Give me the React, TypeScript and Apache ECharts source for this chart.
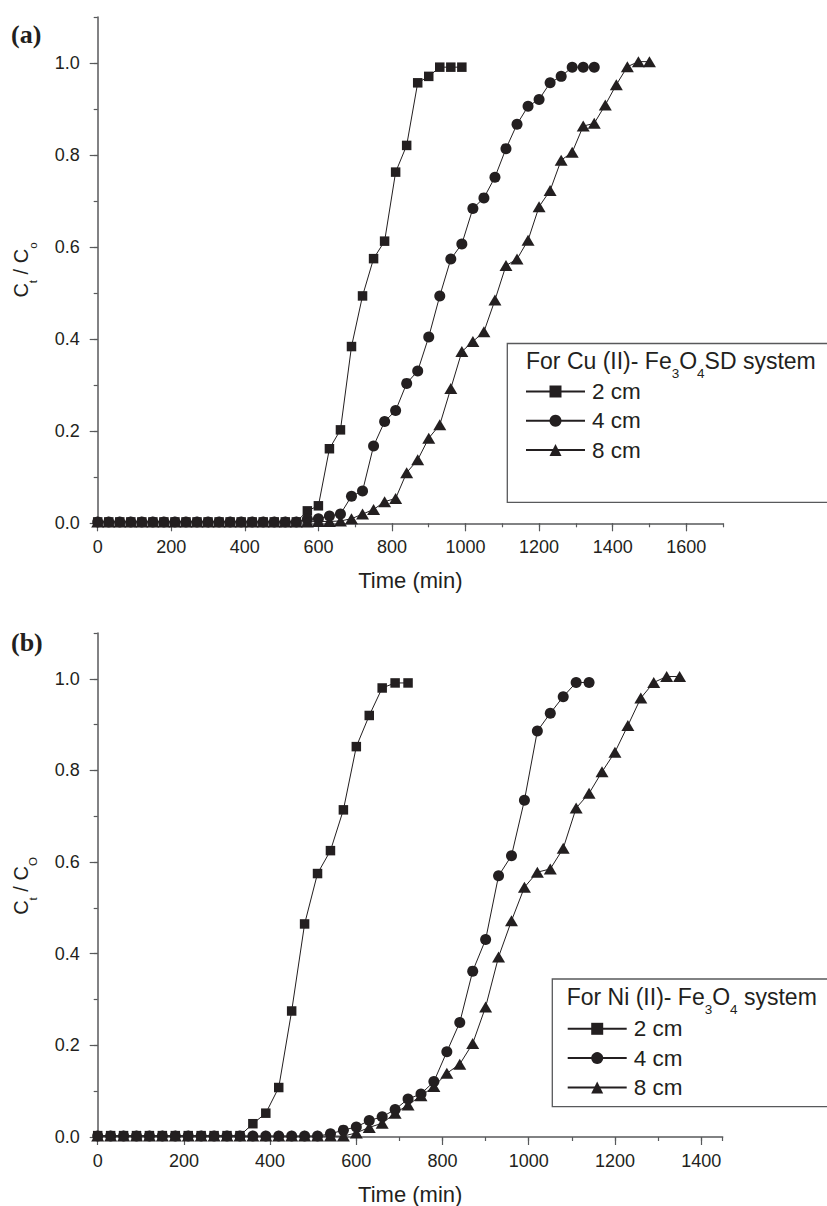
import React, { useEffect, useRef } from "react";
import * as echarts from "echarts";

const FONT = "'Liberation Sans', Arial, Helvetica, sans-serif";
const SERIF = "'Liberation Serif', 'Times New Roman', serif";
const INK = "#231f20";
const AXIS = "#58595b";

// ---------- Panel (a): Cu (II) - Fe3O4SD ----------
const timeA2 = [0, 30, 60, 90, 120, 150, 180, 210, 240, 270, 300, 330, 360, 390, 420, 450, 480, 510, 540, 570, 600, 630, 660, 690, 720, 750, 780, 810, 840, 870, 900, 930, 960, 990];
const valA2 = [0.003, 0.003, 0.003, 0.003, 0.003, 0.003, 0.003, 0.003, 0.003, 0.003, 0.003, 0.003, 0.003, 0.003, 0.003, 0.003, 0.003, 0.003, 0.003, 0.027, 0.038, 0.162, 0.203, 0.384, 0.494, 0.575, 0.613, 0.763, 0.821, 0.957, 0.971, 0.991, 0.991, 0.991];

const timeA4 = [0, 30, 60, 90, 120, 150, 180, 210, 240, 270, 300, 330, 360, 390, 420, 450, 480, 510, 540, 570, 600, 630, 660, 690, 720, 750, 780, 810, 840, 870, 900, 930, 960, 990, 1020, 1050, 1080, 1110, 1140, 1170, 1200, 1230, 1260, 1290, 1320, 1350];
const valA4 = [0.003, 0.003, 0.003, 0.003, 0.003, 0.003, 0.003, 0.003, 0.003, 0.003, 0.003, 0.003, 0.003, 0.003, 0.003, 0.003, 0.003, 0.003, 0.003, 0.009, 0.010, 0.016, 0.020, 0.059, 0.070, 0.168, 0.221, 0.245, 0.304, 0.331, 0.405, 0.494, 0.574, 0.607, 0.684, 0.707, 0.752, 0.814, 0.867, 0.906, 0.921, 0.957, 0.971, 0.991, 0.991, 0.991];

const timeA8 = [0, 30, 60, 90, 120, 150, 180, 210, 240, 270, 300, 330, 360, 390, 420, 450, 480, 510, 540, 570, 600, 630, 660, 690, 720, 750, 780, 810, 840, 870, 900, 930, 960, 990, 1020, 1050, 1080, 1110, 1140, 1170, 1200, 1230, 1260, 1290, 1320, 1350, 1380, 1410, 1440, 1470, 1500];
const valA8 = [0.003, 0.003, 0.003, 0.003, 0.003, 0.003, 0.003, 0.003, 0.003, 0.003, 0.003, 0.003, 0.003, 0.003, 0.003, 0.003, 0.003, 0.003, 0.003, 0.003, 0.004, 0.004, 0.005, 0.010, 0.020, 0.030, 0.047, 0.054, 0.110, 0.138, 0.185, 0.214, 0.293, 0.373, 0.395, 0.416, 0.485, 0.560, 0.574, 0.615, 0.688, 0.723, 0.789, 0.806, 0.863, 0.869, 0.909, 0.953, 0.992, 1.003, 1.003];

// ---------- Panel (b): Ni (II) - Fe3O4 ----------
const timeB2 = [0, 30, 60, 90, 120, 150, 180, 210, 240, 270, 300, 330, 360, 390, 420, 450, 480, 510, 540, 570, 600, 630, 660, 690, 720];
const valB2 = [0.003, 0.003, 0.003, 0.003, 0.003, 0.003, 0.003, 0.003, 0.003, 0.003, 0.003, 0.003, 0.029, 0.052, 0.108, 0.275, 0.465, 0.575, 0.625, 0.714, 0.852, 0.920, 0.980, 0.991, 0.991];

const timeB4 = [0, 30, 60, 90, 120, 150, 180, 210, 240, 270, 300, 330, 360, 390, 420, 450, 480, 510, 540, 570, 600, 630, 660, 690, 720, 750, 780, 810, 840, 870, 900, 930, 960, 990, 1020, 1050, 1080, 1110, 1140];
const valB4 = [0.002, 0.002, 0.002, 0.002, 0.002, 0.002, 0.002, 0.002, 0.002, 0.002, 0.002, 0.002, 0.002, 0.002, 0.002, 0.002, 0.002, 0.002, 0.007, 0.015, 0.022, 0.036, 0.044, 0.060, 0.083, 0.094, 0.121, 0.186, 0.250, 0.362, 0.431, 0.570, 0.614, 0.735, 0.886, 0.925, 0.961, 0.992, 0.992];

const timeB8 = [0, 30, 60, 90, 120, 150, 180, 210, 240, 270, 300, 330, 360, 390, 420, 450, 480, 510, 540, 570, 600, 630, 660, 690, 720, 750, 780, 810, 840, 870, 900, 930, 960, 990, 1020, 1050, 1080, 1110, 1140, 1170, 1200, 1230, 1260, 1290, 1320, 1350];
const valB8 = [0.002, 0.002, 0.002, 0.002, 0.002, 0.002, 0.002, 0.002, 0.002, 0.002, 0.002, 0.002, 0.002, 0.002, 0.002, 0.002, 0.002, 0.002, 0.002, 0.002, 0.009, 0.021, 0.030, 0.052, 0.070, 0.090, 0.110, 0.139, 0.159, 0.204, 0.284, 0.393, 0.472, 0.545, 0.578, 0.585, 0.630, 0.718, 0.750, 0.797, 0.840, 0.898, 0.958, 0.992, 1.005, 1.005];

// ---------- ticks / labels ----------
const xTicksA = [0, 200, 400, 600, 800, 1000, 1200, 1400, 1600];
const xTicksB = [0, 200, 400, 600, 800, 1000, 1200, 1400];
const yTicks = [0, 0.2, 0.4, 0.6, 0.8, 1.0];
const seriesNames = ["2 cm", "4 cm", "8 cm"];
const legendTitleA = "{n|For Cu (II)- Fe}{s|3}{n|O}{s|4}{n|SD system}";
const legendTitleB = "{n|For Ni (II)- Fe}{s|3}{n|O}{s|4}{n| system}";
const yTitleA = "{n|C}{s|t}{n| / C}{s|o}";
const yTitleB = "{n|C}{s|t}{n| / C}{s|O}";

const zip = (t: number[], v: number[]) => t.map((x, i) => [x, v[i]]);

const symbols: Record<string, { symbol: string; size: number | number[] }> = {
  "2 cm": { symbol: "rect", size: 9.5 },
  "4 cm": { symbol: "circle", size: 11 },
  "8 cm": { symbol: "triangle", size: [13, 11] },
};

function lineSeries(name: string, data: number[][], axis: number) {
  return {
    type: "line",
    name,
    xAxisIndex: axis,
    yAxisIndex: axis,
    data,
    symbol: symbols[name].symbol,
    symbolSize: symbols[name].size,
    showAllSymbol: true,
    clip: false,
    lineStyle: { color: INK, width: 1 },
    itemStyle: { color: INK },
    emphasis: { disabled: true },
  };
}

function xMajor(grid: number, max: number, ticks: number[]) {
  return {
    type: "value",
    gridIndex: grid,
    position: "bottom",
    min: 0,
    max,
    interval: 200,
    axisLine: { show: true, onZero: false, lineStyle: { color: AXIS, width: 1.5 } },
    axisTick: { show: true, length: 8, lineStyle: { color: AXIS, width: 1.2 }, customValues: ticks },
    axisLabel: {
      customValues: ticks,
      margin: 15,
      fontSize: 18,
      color: INK,
      fontFamily: FONT,
      formatter: (v: number) => String(Math.round(v)),
    },
    splitLine: { show: false },
    name: "Time (min)",
    nameLocation: "middle",
    nameGap: 46,
    nameTextStyle: { fontSize: 22, color: INK, fontFamily: FONT },
  };
}
function xMinor(grid: number, max: number) {
  return {
    type: "value",
    gridIndex: grid,
    position: "bottom",
    min: 0,
    max,
    interval: 100,
    axisLine: { show: false, onZero: false },
    axisTick: { show: true, length: 4, lineStyle: { color: AXIS, width: 1.2 } },
    axisLabel: { show: false },
    splitLine: { show: false },
  };
}
function yMajor(grid: number) {
  return {
    type: "value",
    gridIndex: grid,
    position: "left",
    min: 0,
    max: 1.1,
    interval: 0.2,
    axisLine: { show: true, onZero: false, lineStyle: { color: AXIS, width: 1.5 } },
    axisTick: { show: true, length: 8, lineStyle: { color: AXIS, width: 1.2 }, customValues: yTicks },
    axisLabel: {
      customValues: yTicks,
      margin: 18,
      fontSize: 18,
      color: INK,
      fontFamily: FONT,
      formatter: (v: number) => v.toFixed(1),
    },
    splitLine: { show: false },
  };
}
function yMinor(grid: number) {
  return {
    type: "value",
    gridIndex: grid,
    position: "left",
    min: 0,
    max: 1.1,
    interval: 0.1,
    axisLine: { show: false, onZero: false },
    axisTick: { show: true, length: 4, lineStyle: { color: AXIS, width: 1.2 } },
    axisLabel: { show: false },
    splitLine: { show: false },
  };
}

const legendTitleRich = {
  n: { fontSize: 23, lineHeight: 23, fontFamily: FONT, fill: INK },
  s: { fontSize: 13.5, fontFamily: FONT, fill: INK, verticalAlign: "bottom", padding: [25, 0, 0, 0] },
};
const yTitleRich = {
  n: { fontSize: 20, lineHeight: 20, fontFamily: FONT, fill: INK },
  s: { fontSize: 11.5, fontFamily: FONT, fill: INK, verticalAlign: "bottom", padding: [24, 0, 0, 0] },
};

function legendCfg(left: number, top: number) {
  return {
    data: seriesNames,
    orient: "vertical",
    left,
    top,
    padding: 0,
    itemWidth: 59,
    itemHeight: 15,
    itemGap: 6.3,
    selectedMode: false,
    textStyle: { fontSize: 22.5, lineHeight: 22, color: INK, fontFamily: FONT, padding: [0, 0, 0, 2] },
  };
}

const option = {
  animation: false,
  backgroundColor: "#ffffff",
  grid: [
    { left: 97.7, top: 17, width: 625.3, height: 506.3, containLabel: false },
    { left: 97.7, top: 633, width: 625, height: 506, containLabel: false },
  ],
  xAxis: [xMajor(0, 1700, xTicksA), xMinor(0, 1700), xMajor(1, 1450, xTicksB), xMinor(1, 1450)],
  yAxis: [yMajor(0), yMinor(0), yMajor(1), yMinor(1)],
  legend: [legendCfg(525, 380), legendCfg(566.7, 1017.3)],
  series: [
    lineSeries("2 cm", zip(timeA2, valA2), 0),
    lineSeries("4 cm", zip(timeA4, valA4), 0),
    lineSeries("8 cm", zip(timeA8, valA8), 0),
    lineSeries("2 cm", zip(timeB2, valB2), 2),
    lineSeries("4 cm", zip(timeB4, valB4), 2),
    lineSeries("8 cm", zip(timeB8, valB8), 2),
  ],
  graphic: [
    { type: "rect", shape: { x: 507.3, y: 343.5, width: 340, height: 158.8 }, style: { fill: "none", stroke: AXIS, lineWidth: 1.3 }, silent: true },
    { type: "rect", shape: { x: 552.3, y: 979, width: 300, height: 127.7 }, style: { fill: "none", stroke: AXIS, lineWidth: 1.3 }, silent: true },
    { type: "text", x: 526, y: 361, silent: true, style: { text: legendTitleA, rich: legendTitleRich, align: "left", verticalAlign: "middle" } },
    { type: "text", x: 566.7, y: 996.7, silent: true, style: { text: legendTitleB, rich: legendTitleRich, align: "left", verticalAlign: "middle" } },
    { type: "text", x: 21, y: 270, rotation: Math.PI / 2, silent: true, style: { text: yTitleA, rich: yTitleRich, align: "center", verticalAlign: "middle" } },
    { type: "text", x: 21, y: 886, rotation: Math.PI / 2, silent: true, style: { text: yTitleB, rich: yTitleRich, align: "center", verticalAlign: "middle" } },
    { type: "text", x: 11, y: 34, silent: true, style: { text: "(a)", fontSize: 26, fontWeight: "bold", fontFamily: SERIF, fill: INK, verticalAlign: "middle" } },
    { type: "text", x: 11, y: 642, silent: true, style: { text: "(b)", fontSize: 26, fontWeight: "bold", fontFamily: SERIF, fill: INK, verticalAlign: "middle" } },
  ],
};

export default function App() {
  const ref = useRef<HTMLDivElement>(null);
  useEffect(() => {
    if (!ref.current) return;
    const chart = echarts.init(ref.current, null, { renderer: "svg" });
    chart.setOption(option as any);
    return () => chart.dispose();
  }, []);
  return (
    <div
      ref={ref}
      style={{ position: "absolute", left: 0, top: 0, width: 827, height: 1206, background: "#ffffff" }}
    />
  );
}
